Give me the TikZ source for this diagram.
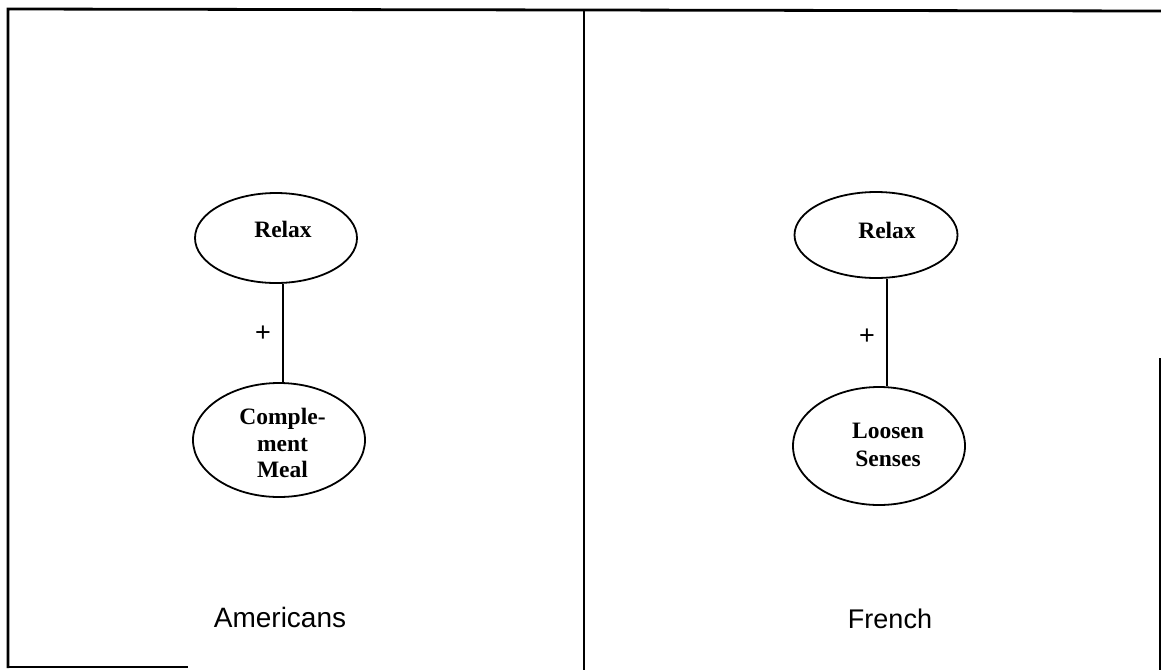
\documentclass[tikz,border=0pt]{standalone}
\usepackage{fontspec}
\setmainfont{Liberation Serif}
\setsansfont{Liberation Sans}
\usetikzlibrary{shapes.geometric}
\begin{document}
\begin{tikzpicture}[x=1pt,y=-1pt,
  frame/.style={line width=2.8pt},
  concept/.style={draw, ellipse, line width=1.8pt, inner sep=0pt},
  ctext/.style={font=\fontsize{23.5}{26.5}\selectfont\bfseries, align=center, inner sep=0pt},
  link/.style={line width=2.2pt},
  sign/.style={font=\fontsize{27}{27}\selectfont\sffamily, inner sep=0pt},
  group/.style={font=\fontsize{28}{28}\selectfont\sffamily, anchor=base, inner sep=0pt}]
  \useasboundingbox (0,0) rectangle (1161,670);
  % panel frame
  \draw[frame] (8,668) -- (8,9) -- (1161,11);
  \draw[frame] (8,667) -- (188,667);
  \draw[frame] (584,10) -- (584,670);
  \draw[line width=2pt] (1160,358) -- (1160,670);
  % left panel
  \node[concept, minimum width=162pt, minimum height=90pt] (relA) at (276,238) {};
  \node[ctext] (relAtxt) at (283,229) {Relax};
  \node[concept, minimum width=172pt, minimum height=114pt] (meal) at (279,440) {};
  \node[ctext] (mealtxt) at (282.5,443) {Comple-\\ment\\Meal};
  \draw[link] (relAtxt |- relA.south) -- (relAtxt |- meal.north);
  \node[sign] (plusA) at (263,334) {+};
  \node[group] (amer) at (280,627) {Americans};
  % right panel
  \node[concept, minimum width=163pt, minimum height=86pt] (relF) at (876,235) {};
  \node[ctext] (relFtxt) at (887,230) {Relax};
  \node[concept, minimum width=172pt, minimum height=118pt] (sens) at (879,446) {};
  \node[ctext, font=\fontsize{23.5}{28}\selectfont\bfseries] (senstxt) at (888,445) {Loosen\\Senses};
  \draw[link] (relFtxt |- relF.south) -- (relFtxt |- sens.north);
  \node[sign] (plusF) at (867,337) {+};
  \node[group, font=\fontsize{27}{27}\selectfont\sffamily] (fren) at (890,628) {French};
\end{tikzpicture}
\end{document}
